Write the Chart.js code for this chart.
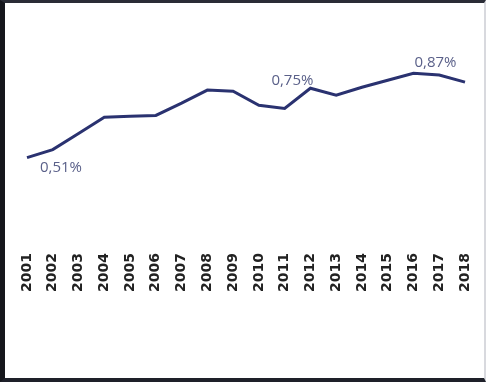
<!DOCTYPE html>
<html>
<head>
<meta charset="utf-8">
<script src="https://cdn.jsdelivr.net/npm/chart.js@4"></script>
<style>
  html, body { margin: 0; padding: 0; background: #fff; }
  #wrap { position: relative; width: 486px; height: 382px; overflow: hidden; }
  canvas { position: absolute; left: 0; top: 0; }
  #frame { position: absolute; left: 0; top: 0; width: 486px; height: 382px; box-sizing: border-box;
           border-left: 5px solid #15161c; border-top: 3px solid #2a2c36; border-bottom: 4px solid #1e2029;
           border-right: 2px solid #d8d9de; pointer-events: none; }
</style>
</head>
<body>
<div id="wrap">
  <canvas id="c" width="486" height="382"></canvas>
  <div id="frame"></div>
</div>
<script>
const years = ['2001','2002','2003','2004','2005','2006','2007','2008','2009','2010','2011','2012','2013','2014','2015','2016','2017','2018'];
const values = [0.51,0.544,0.613,0.682,0.686,0.690,0.742,0.798,0.793,0.733,0.720,0.806,0.776,0.810,0.840,0.870,0.862,0.832];
const labelText = ['0,51%','0,75%','0,87%'];
const labelIndex = [0, 11, 15];

const labelPlugin = {
  id: 'pointLabels',
  afterDatasetsDraw(chart, args, opts) {
    const ctx = chart.ctx;
    const meta = chart.getDatasetMeta(0);
    ctx.save();
    ctx.font = opts.font;
    ctx.fillStyle = opts.color;
    ctx.textAlign = 'center';
    ctx.textBaseline = 'middle';
    labelIndex.forEach((idx, i) => {
      const pt = meta.data[idx];
      const off = opts.offsets[i];
      ctx.fillText(labelText[i], pt.x + off[0], pt.y + off[1]);
    });
    ctx.restore();
  }
};

new Chart(document.getElementById('c'), {
  type: 'line',
  data: {
    labels: years,
    datasets: [{
      data: values,
      borderColor: '#2a3270',
      borderWidth: 3,
      pointRadius: 0,
      tension: 0,
      fill: false
    }]
  },
  options: {
    responsive: false,
    animation: false,
    devicePixelRatio: 1,
    layout: { padding: { left: 27, right: 21, top: 20, bottom: 86 } },
    plugins: {
      legend: { display: false },
      tooltip: { enabled: false },
      pointLabels: {
        font: '15px "Open Sans"',
        color: '#5a6089',
        offsets: [[34, 10], [-18, -7], [22, -10]]
      }
    },
    scales: {
      x: {
        offset: false,
        grid: { display: false },
        border: { display: false },
        ticks: {
          minRotation: 90, maxRotation: 90, padding: 4,
          color: '#222',
          font: { family: '"DejaVu Sans"', size: 14, weight: 'bold' }
        }
      },
      y: {
        display: false,
        min: 0.154,
        max: 1.097
      }
    }
  },
  plugins: [labelPlugin]
});
</script>
</body>
</html>
